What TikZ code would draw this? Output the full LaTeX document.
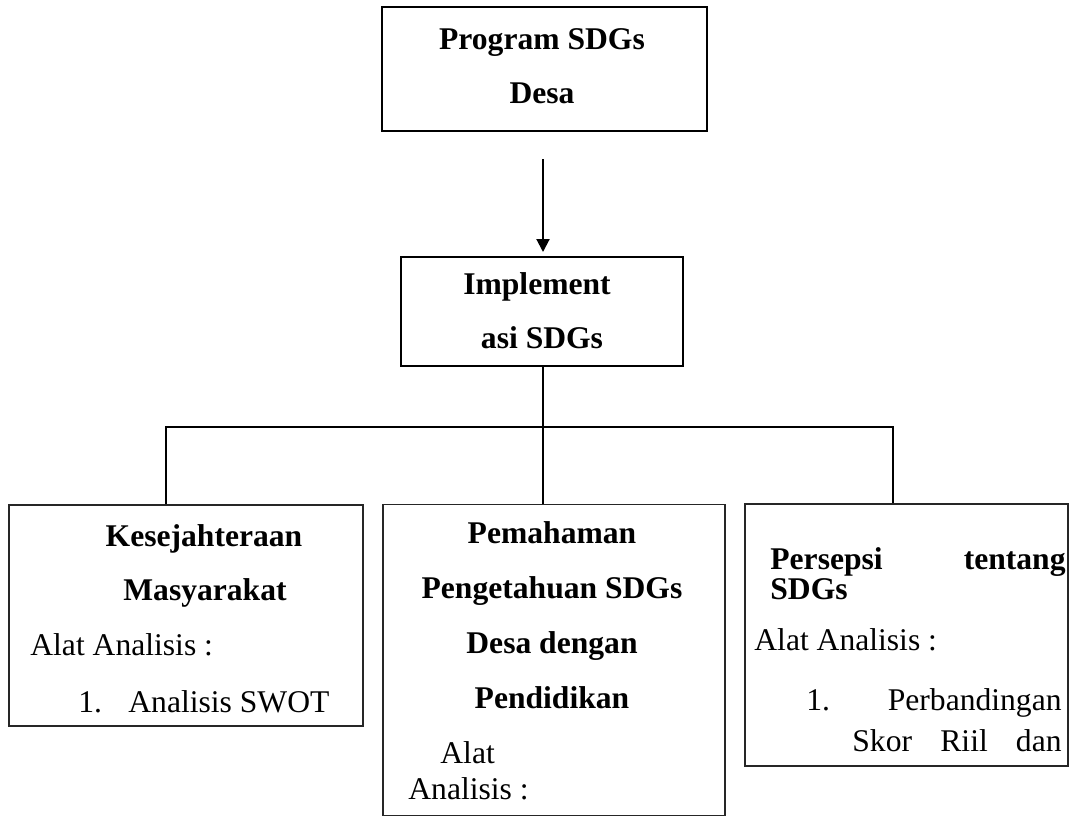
\documentclass[tikz,border=0pt]{standalone}
\usepackage{fontspec}
\setmainfont{Liberation Serif}
\usetikzlibrary{arrows.meta}
\begin{document}
\begin{tikzpicture}[x=0.5pt,y=-0.5pt,
  boxthick/.style={draw, line width=1pt, inner sep=0},
  boxthin/.style={draw=black!85, line width=0.55pt, inner sep=0},
  conn/.style={line width=1pt},
  t/.style={inner sep=0, font=\fontsize{15.8pt}{18pt}\selectfont},
  tb/.style={inner sep=0, font=\fontsize{15.8pt}{18pt}\selectfont\bfseries}]
\useasboundingbox (0,0) rectangle (1076,816);

% boxes
\node[boxthick, minimum width=162.5pt, minimum height=62pt] (prog) at (544.5,69) {};
\node[boxthick, minimum width=141pt, minimum height=54.5pt] (impl) at (542,311.5) {};
\node[boxthin, minimum width=177pt, minimum height=110.5pt] (left) at (186,615.5) {};
\node[boxthin, minimum width=171pt, minimum height=155.5pt] (mid) at (554,659.75) {};
\node[boxthin, minimum width=161.5pt, minimum height=131pt] (right) at (906.5,635) {};

% texts top
\node[tb, anchor=base] (p1) at (542,49) {Program SDGs};
\node[tb, anchor=base] (p2) at (542,103) {Desa};
\node[tb, anchor=base] (i1) at (537,294) {Implement};
\node[tb, anchor=base] (i2) at (542,348) {asi SDGs};

% left box
\node[tb, anchor=base] (l1) at (204,546) {Kesejahteraan};
\node[tb, anchor=base] (l2) at (205,600) {Masyarakat};
\node[t, anchor=base west] (l3) at (30,655) {Alat Analisis :};
\node[t, anchor=base west] (l4) at (78,712) {1.};
\node[t, anchor=base west] (l5) at (128,712) {Analisis SWOT};

% middle box
\node[tb, anchor=base] (m1) at (552,543) {Pemahaman};
\node[tb, anchor=base] (m2) at (552,598) {Pengetahuan SDGs};
\node[tb, anchor=base] (m3) at (552,653) {Desa dengan};
\node[tb, anchor=base] (m4) at (552,708) {Pendidikan};
\node[t, anchor=base west] (m5) at (440,763) {Alat};
\node[t, anchor=base west] (m6) at (408,799) {Analisis :};

% right box
\node[tb, anchor=base west] (r1) at (770,569) {Persepsi};
\node[tb, anchor=base east] (r2) at (1066,569) {tentang};
\node[tb, anchor=base west] (r3) at (770,599) {SDGs};
\node[t, anchor=base west] (r4) at (754,650) {Alat Analisis :};
\node[t, anchor=base west] (r5) at (806,710) {1.};
\node[t, anchor=base east] (r6) at (1062,710) {Perbandingan};
\node[t, anchor=base west] (r7) at (852,751) {Skor};
\node[t, anchor=base west] (r8) at (940,751) {Riil};
\node[t, anchor=base east] (r9) at (1062,751) {dan};

% connectors
\coordinate (a0) at (543,159);
\draw[conn, -{Triangle[width=6.5pt,length=6.5pt]}, shorten >=2pt] (a0) -- (a0 |- impl.north);
\coordinate (v0) at (543,366);
\draw[conn] (v0) -- (v0 |- mid.north);
\coordinate (hl) at (166,427);
\coordinate (hr) at (893,427);
\draw[conn] (left.north -| hl) -- (hl) -- (hr) -- (right.north -| hr);
\end{tikzpicture}
\end{document}
